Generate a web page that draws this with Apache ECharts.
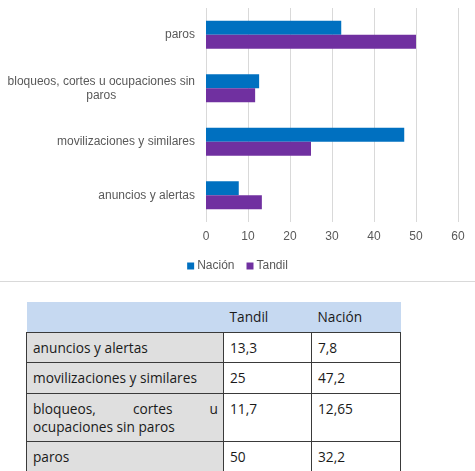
<!DOCTYPE html>
<html>
<head>
<meta charset="utf-8">
<script src="https://cdn.jsdelivr.net/npm/echarts@6/dist/echarts.min.js"></script>
<style>
  html, body { margin: 0; padding: 0; background: #fff; }
  body { width: 475px; height: 471px; position: relative; overflow: hidden; }
  #chart { position: absolute; left: 0; top: 0; width: 475px; height: 281px; border-bottom: 1px solid #d9d9d9; }
  #tbl { position: absolute; left: 26px; top: 302px; width: 374px; border-collapse: collapse; table-layout: fixed;
         font-family: "Open Sans", sans-serif; font-size: 13.7px; color: #1a1a1a; }
  #tbl td, #tbl th { padding: 6px 5px 5.5px 6px; line-height: 18px; vertical-align: top; text-align: left; font-weight: normal; }
  #tbl thead th { background: #c6d9f1; border: none; }
  #tbl tbody td { border: 1px solid #3a3a3a; background: #fff; }
  #tbl tbody td.cat { background: #dfdfdf; text-align: justify; }
</style>
</head>
<body>
<div id="chart"></div>
<table id="tbl">
  <colgroup><col style="width:197px"><col style="width:88px"><col style="width:89px"></colgroup>
  <thead><tr id="hdr"></tr></thead>
  <tbody id="body"></tbody>
</table>
<script>
// Data
var categories = ['anuncios y alertas', 'movilizaciones y similares', 'bloqueos, cortes u ocupaciones sin paros', 'paros'];
var tandil = [13.3, 25, 11.7, 50];
var nacion = [7.8, 47.2, 12.65, 32.2];
var tandilLabels = ['13,3', '25', '11,7', '50'];
var nacionLabels = ['7,8', '47,2', '12,65', '32,2'];
var tableHeader = ['', 'Tandil', 'Nación'];
var xTicks = [0, 10, 20, 30, 40, 50, 60];

var chart = echarts.init(document.getElementById('chart'), null, { renderer: 'canvas' });
var textColor = '#595959';
var font = '"Liberation Sans", Arial, sans-serif';

chart.setOption({
  animation: false,
  textStyle: { fontFamily: font },
  grid: { left: 206, right: 17, top: 8, bottom: 59, containLabel: false },
  legend: {
    data: ['Nación', 'Tandil'],
    left: 'center',
    top: 255,
    icon: 'rect',
    itemWidth: 7,
    itemHeight: 7,
    itemGap: 12,
    textStyle: { color: textColor, fontSize: 12, fontFamily: font, padding: [0, 0, 0, -2] }
  },
  xAxis: {
    type: 'value',
    min: xTicks[0],
    max: xTicks[xTicks.length - 1],
    interval: 10,
    axisLine: { show: false },
    axisTick: { show: false },
    splitLine: { lineStyle: { color: '#d9d9d9', width: 1 } },
    axisLabel: { color: textColor, fontSize: 12, margin: 9, fontFamily: font }
  },
  yAxis: {
    type: 'category',
    data: categories,
    axisLine: { show: false },
    axisTick: { show: false },
    axisLabel: {
      color: textColor, fontSize: 12, margin: 11, fontFamily: font,
      formatter: function (v) {
        if (v.indexOf('sin paros') >= 0) {
          return '{a|bloqueos, cortes u ocupaciones sin}\n{b|paros}';
        }
        return v;
      },
      rich: {
        a: { color: textColor, fontSize: 12, lineHeight: 14, fontFamily: font },
        b: { color: textColor, fontSize: 12, lineHeight: 14, fontFamily: font, align: 'center' }
      }
    }
  },
  series: [
    { name: 'Nación', type: 'bar', data: nacion, barWidth: 14, barGap: '0%', itemStyle: { color: '#0070c0' } },
    { name: 'Tandil', type: 'bar', data: tandil, barWidth: 14, barGap: '0%', itemStyle: { color: '#7030a0' } }
  ]
});

// Table
var hdr = document.getElementById('hdr');
tableHeader.forEach(function (h) {
  var th = document.createElement('th');
  th.textContent = h;
  hdr.appendChild(th);
});
var body = document.getElementById('body');
categories.forEach(function (c, i) {
  var tr = document.createElement('tr');
  var td0 = document.createElement('td'); td0.className = 'cat'; td0.textContent = c;
  var td1 = document.createElement('td'); td1.textContent = tandilLabels[i];
  var td2 = document.createElement('td'); td2.textContent = nacionLabels[i];
  tr.appendChild(td0); tr.appendChild(td1); tr.appendChild(td2);
  body.appendChild(tr);
});
</script>
</body>
</html>
